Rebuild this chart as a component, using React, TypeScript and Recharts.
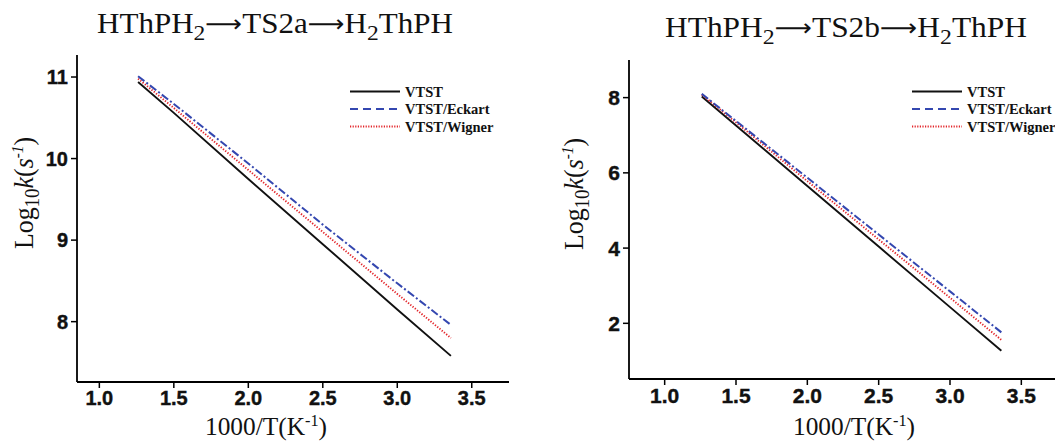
import React from "react";
import { LineChart, Line, XAxis, YAxis } from "recharts";

// 1000/T sample points (K^-1)
const X_VALUES = [1.26, 1.5, 2.0, 2.5, 3.0, 3.36];
const X_TICKS = [1.0, 1.5, 2.0, 2.5, 3.0, 3.5];

// HThPH2 -> TS2a -> H2ThPH
const VTST_A = [10.94, 10.56, 9.75, 8.95, 8.15, 7.58];
const ECKART_A = [11.01, 10.67, 9.94, 9.19, 8.47, 7.96];
const WIGNER_A = [10.98, 10.62, 9.86, 9.1, 8.34, 7.8];
const Y_TICKS_A = [8, 9, 10, 11];

// HThPH2 -> TS2b -> H2ThPH
const VTST_B = [8.03, 7.26, 5.65, 4.04, 2.43, 1.27];
const ECKART_B = [8.1, 7.38, 5.87, 4.36, 2.85, 1.76];
const WIGNER_B = [8.08, 7.34, 5.78, 4.23, 2.68, 1.56];
const Y_TICKS_B = [2, 4, 6, 8];

const SERIES = ["VTST", "VTST/Eckart", "VTST/Wigner"];

const SERIF = "Liberation Serif, Times New Roman, serif";
const SANS = "Liberation Sans, Arial, sans-serif";
const BLUE = "#3447b0";
const RED = "#e3262b";
const BLACK = "#111";

const buildRows = (vtst: number[], eckart: number[], wigner: number[]) =>
  X_VALUES.map((x, i) => ({ x, vtst: vtst[i], eckart: eckart[i], wigner: wigner[i] }));

interface PanelProps {
  rows: ReturnType<typeof buildRows>;
  xDomain: [number, number];
  yDomain: [number, number];
  yTicks: number[];
  width: number;
  margin: { top: number; right: number; bottom: number; left: number };
  yAxisWidth: number;
  xAxisHeight: number;
  fontSize: number;
  xTickDy: number;
}

const axisStroke = { stroke: "#000", strokeWidth: 1.8 };
const tickStroke = { stroke: "#000", strokeWidth: 1.5 };

function Panel(p: PanelProps) {
  const xTick = (props: any) => (
    <text x={props.x} y={props.y + p.xTickDy} textAnchor="middle" fontFamily={SANS}
      fontWeight={700} fontSize={p.fontSize} fill="#111" stroke="#111" strokeWidth={0.4}>
      {Number(props.payload.value).toFixed(1)}
    </text>
  );
  const yTick = (props: any) => (
    <text x={props.x} y={props.y + p.fontSize * 0.36} textAnchor="end" fontFamily={SANS}
      fontWeight={700} fontSize={p.fontSize} fill="#111" stroke="#111" strokeWidth={0.4}>
      {props.payload.value}
    </text>
  );
  return (
    <LineChart width={p.width} height={442} data={p.rows} margin={p.margin}>
      <XAxis xAxisId="b" type="number" dataKey="x" domain={p.xDomain} ticks={X_TICKS}
        allowDataOverflow height={p.xAxisHeight} tickSize={6} tickMargin={2}
        axisLine={axisStroke} tickLine={tickStroke} tick={xTick} />
      <XAxis xAxisId="t" orientation="top" type="number" dataKey="x" domain={p.xDomain}
        ticks={X_TICKS} allowDataOverflow height={0} mirror tickSize={6}
        axisLine={axisStroke} tickLine={tickStroke} tickFormatter={() => ""} />
      <YAxis yAxisId="l" type="number" domain={p.yDomain} ticks={p.yTicks} allowDataOverflow
        width={p.yAxisWidth} tickSize={6} tickMargin={3}
        axisLine={axisStroke} tickLine={tickStroke} tick={yTick} />
      <YAxis yAxisId="r" orientation="right" type="number" domain={p.yDomain} ticks={p.yTicks}
        allowDataOverflow width={0} mirror tickSize={6}
        axisLine={axisStroke} tickLine={tickStroke} tickFormatter={() => ""} />
      <Line xAxisId="b" yAxisId="l" type="linear" dataKey="vtst" name={SERIES[0]} stroke={BLACK}
        strokeWidth={1.9} dot={false} isAnimationActive={false} />
      <Line xAxisId="b" yAxisId="l" type="linear" dataKey="wigner" name={SERIES[2]} stroke={RED}
        strokeWidth={1.9} strokeDasharray="1.3 1.6" dot={false} isAnimationActive={false} />
      <Line xAxisId="b" yAxisId="l" type="linear" dataKey="eckart" name={SERIES[1]} stroke={BLUE}
        strokeWidth={2} strokeDasharray="8 2.5 2 2.5" dot={false} isAnimationActive={false} />
    </LineChart>
  );
}

function Title({ x, y, width, label }: { x: number; y: number; width: number; label: string }) {
  const arrow = (
    <tspan fontFamily="DejaVu Sans, sans-serif" fontSize={24} dy={-1}>{"\u27F6"}</tspan>
  );
  return (
    <text x={x} y={y} textAnchor="middle" fontFamily={SERIF} fontSize={29} fill="#111"
      textLength={width} lengthAdjust="spacingAndGlyphs">
      HThPH<tspan dy={7} fontSize={22}>2</tspan>
      <tspan fontFamily="DejaVu Sans, sans-serif" fontSize={24} dy={-8}>{"\u27F6"}</tspan>
      <tspan dy={1}>{label}</tspan>
      {arrow}
      <tspan dy={1}>H</tspan>
      <tspan dy={7} fontSize={22}>2</tspan>
      <tspan dy={-7}>ThPH</tspan>
    </text>
  );
}

function YLabel({ x, y }: { x: number; y: number }) {
  return (
    <text transform={`translate(${x},${y}) rotate(-90)`} textAnchor="middle" fontFamily={SERIF}
      fontSize={27} fill="#111" textLength={112} lengthAdjust="spacingAndGlyphs">
      Log<tspan dy={6} fontSize={20}>10</tspan>
      <tspan dy={-6} fontStyle="italic">k</tspan>
      <tspan>(</tspan>
      <tspan fontStyle="italic">s</tspan>
      <tspan dy={-10} fontSize={16} fontStyle="italic">-1</tspan>
      <tspan dy={10}>)</tspan>
    </text>
  );
}

function XLabel({ x, y }: { x: number; y: number }) {
  return (
    <text x={x} y={y} textAnchor="middle" fontFamily={SERIF} fontSize={25} fill="#111"
      textLength={122} lengthAdjust="spacingAndGlyphs">
      1000/T(K<tspan dy={-9} fontSize={16}>-1</tspan>
      <tspan dy={9}>)</tspan>
    </text>
  );
}

function LegendBox({ x, y }: { x: number; y: number }) {
  const styles = [
    { stroke: BLACK, dash: undefined },
    { stroke: BLUE, dash: "8 5" },
    { stroke: RED, dash: "1.2 1.4" },
  ];
  return (
    <g>
      {SERIES.map((name, i) => (
        <g key={name}>
          <line x1={x} x2={x + 50} y1={y + i * 17.5} y2={y + i * 17.5} stroke={styles[i].stroke}
            strokeWidth={1.8} strokeDasharray={styles[i].dash} />
          <text x={x + 55} y={y + i * 17.5 + 5} fontFamily={SERIF} fontWeight="bold"
            fontSize={14.5} fill="#111">
            {name}
          </text>
        </g>
      ))}
    </g>
  );
}

export default function App() {
  const rowsA = buildRows(VTST_A, ECKART_A, WIGNER_A);
  const rowsB = buildRows(VTST_B, ECKART_B, WIGNER_B);
  return (
    <div style={{ position: "absolute", left: 0, top: 0, width: 1055, height: 442,
      overflow: "hidden", background: "#fff" }}>
      <div style={{ position: "absolute", left: 0, top: 0 }}>
        <Panel rows={rowsA} xDomain={[0.85, 3.75]} yDomain={[7.26, 11.27]} yTicks={Y_TICKS_A}
          width={530} margin={{ top: 55, right: 21, bottom: 0, left: 0 }} yAxisWidth={77}
          xAxisHeight={60} fontSize={20} xTickDy={15} />
      </div>
      <div style={{ position: "absolute", left: 530, top: 0 }}>
        <Panel rows={rowsB} xDomain={[0.75, 3.75]} yDomain={[0.52, 9.0]} yTicks={Y_TICKS_B}
          width={540} margin={{ top: 60, right: 13, bottom: 0, left: 0 }} yAxisWidth={99}
          xAxisHeight={63} fontSize={21} xTickDy={16} />
      </div>
      <svg width={1055} height={442} style={{ position: "absolute", left: 0, top: 0, pointerEvents: "none" }}>
        <Title x={275} y={33} width={356} label="TS2a" />
        <Title x={846} y={37} width={362} label="TS2b" />
        <YLabel x={33} y={193} />
        <YLabel x={583} y={194} />
        <XLabel x={266} y={435} />
        <XLabel x={854} y={435} />
        <LegendBox x={350} y={91.5} />
        <LegendBox x={912} y={91.5} />
      </svg>
    </div>
  );
}
